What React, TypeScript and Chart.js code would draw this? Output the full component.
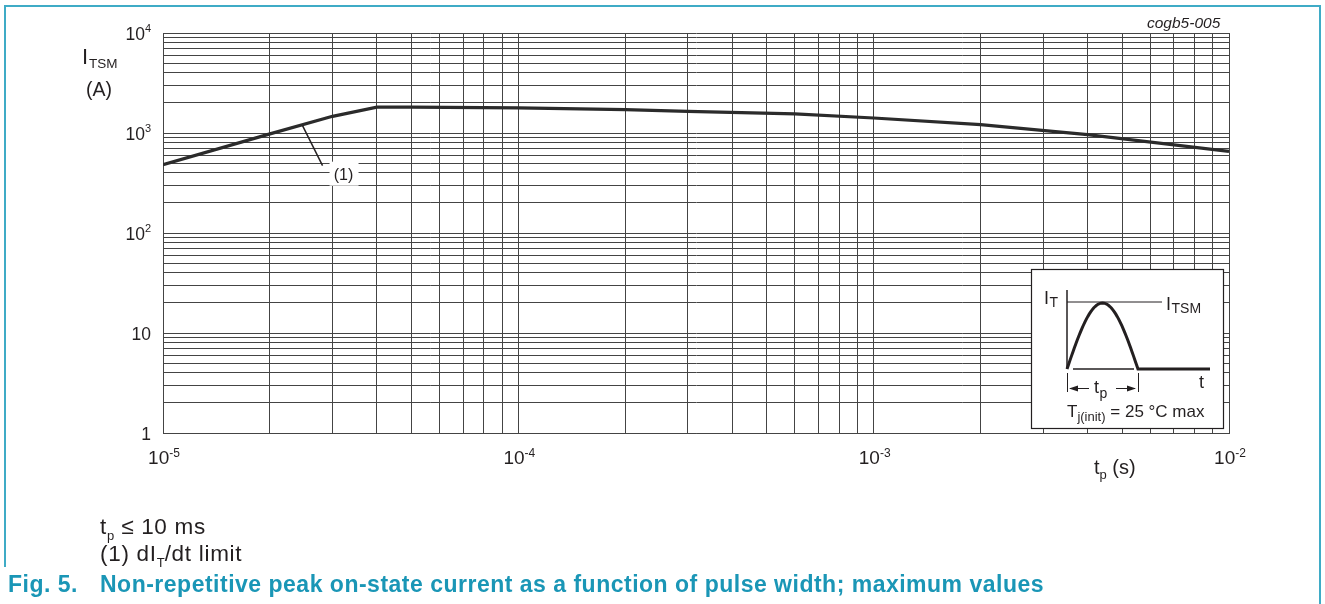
import React, { useEffect, useRef } from "react";
import { Chart, registerables } from "chart.js";

Chart.register(...registerables);

// ---- data ----
const pulseWidth = [1e-5, 2e-5, 3e-5, 4e-5, 5e-5, 1e-4, 2e-4, 3e-4, 6e-4, 1e-3, 2e-3, 4e-3, 1e-2];
const itsmMax = [482, 980, 1468, 1815, 1815, 1780, 1710, 1645, 1550, 1413, 1211, 962, 656];

const xTickValues = [1e-5, 1e-4, 1e-3, 1e-2];
const xTickBase = ["10", "10", "10", "10"];
const xTickExp = ["-5", "-4", "-3", "-2"];
const yTickValues = [1, 10, 100, 1000, 10000];
const yTickBase = ["1", "10", "10", "10", "10"];
const yTickExp = ["", "", "2", "3", "4"];

const minorMultipliers = [1, 2, 3, 4, 5, 6, 7, 8, 9];
const xDecades = [1e-5, 1e-4, 1e-3];
const yDecades = [1, 10, 100, 1000];
const xGrid = [...xDecades.flatMap((d) => minorMultipliers.map((m) => m * d)), 1e-2];
const yGrid = [...yDecades.flatMap((d) => minorMultipliers.map((m) => m * d)), 10000];

const annotationAnchor = { x: 2.47e-5, y: 1211 };

const FONT = '"Liberation Sans", Arial, Helvetica, sans-serif';
const INK = "#231f20";
const TEAL = "#1a96b6";

function drawInset(ctx: CanvasRenderingContext2D, ca: any) {
  const ox = ca.right - 198;
  const oy = ca.bottom - 164;
  const R = ca.right - 6;
  const B = ca.bottom - 5;
  ctx.save();
  ctx.fillStyle = "#fff";
  ctx.fillRect(ox, oy, R - ox, B - oy);
  ctx.strokeStyle = INK;
  ctx.lineWidth = 1.2;
  ctx.strokeRect(ox + 0.5, oy + 0.5, R - ox, B - oy);

  const ax = ox + 36;
  const base = oy + 100;
  const x1 = ox + 107;
  // vertical axis
  ctx.lineWidth = 1.5;
  ctx.beginPath();
  ctx.moveTo(ax, oy + 21);
  ctx.lineTo(ax, base);
  ctx.stroke();
  // ITSM level line
  ctx.lineWidth = 1;
  ctx.beginPath();
  ctx.moveTo(ax, oy + 33);
  ctx.lineTo(ox + 131, oy + 33);
  ctx.stroke();
  // thin baseline under pulse
  ctx.lineWidth = 1.5;
  ctx.beginPath();
  ctx.moveTo(ox + 42, base);
  ctx.lineTo(ox + 103, base);
  ctx.stroke();
  // half sine pulse
  ctx.lineWidth = 3;
  ctx.beginPath();
  const n = 48;
  for (let i = 0; i <= n; i++) {
    const px = ax + ((x1 - ax) * i) / n;
    const py = base - 66 * Math.sin((Math.PI * i) / n);
    if (i === 0) ctx.moveTo(px, py);
    else ctx.lineTo(px, py);
  }
  ctx.lineTo(ox + 179, base);
  ctx.stroke();
  // dimension ticks
  ctx.lineWidth = 1;
  ctx.beginPath();
  ctx.moveTo(ax + 0.5, oy + 104);
  ctx.lineTo(ax + 0.5, oy + 123);
  ctx.moveTo(x1 + 0.5, oy + 104);
  ctx.lineTo(x1 + 0.5, oy + 123);
  ctx.stroke();
  // arrows
  const ay = oy + 119.5;
  ctx.lineWidth = 1.2;
  ctx.beginPath();
  ctx.moveTo(ax + 3, ay);
  ctx.lineTo(ox + 58, ay);
  ctx.moveTo(ox + 85, ay);
  ctx.lineTo(x1 - 3, ay);
  ctx.stroke();
  ctx.fillStyle = INK;
  ctx.beginPath();
  ctx.moveTo(ax + 2, ay);
  ctx.lineTo(ax + 11, ay - 3);
  ctx.lineTo(ax + 11, ay + 3);
  ctx.closePath();
  ctx.fill();
  ctx.beginPath();
  ctx.moveTo(x1 - 2, ay);
  ctx.lineTo(x1 - 11, ay - 3);
  ctx.lineTo(x1 - 11, ay + 3);
  ctx.closePath();
  ctx.fill();

  // texts
  ctx.textAlign = "left";
  ctx.textBaseline = "alphabetic";
  const txt = (s: string, x: number, yb: number, size: number) => {
    ctx.font = `${size}px ${FONT}`;
    ctx.fillText(s, x, yb);
    return ctx.measureText(s).width;
  };
  // I_T
  let w = txt("I", ox + 13, oy + 35, 18);
  txt("T", ox + 13 + w + 0.5, oy + 38, 14);
  // I_TSM
  w = txt("I", ox + 135, oy + 41, 18);
  txt("TSM", ox + 135 + w + 0.5, oy + 44, 14);
  // t
  txt("t", ox + 168, oy + 119, 18);
  // t_p
  w = txt("t", ox + 63, oy + 124, 18);
  txt("p", ox + 63 + w + 0.5, oy + 129, 14);
  // Tj(init) = 25 °C max
  let cx = ox + 36;
  w = txt("T", cx, oy + 148, 17);
  cx += w;
  w = txt("j(init)", cx, oy + 152, 13);
  cx += w;
  txt(" = 25 °C max", cx, oy + 148, 17);
  ctx.restore();
}

const overlayPlugin = {
  id: "overlay",
  afterDraw(chart: any) {
    const { ctx, chartArea: ca, scales } = chart;
    const xs = scales.x;
    const ys = scales.y;
    ctx.save();
    ctx.fillStyle = INK;
    ctx.textBaseline = "alphabetic";
    ctx.textAlign = "left";

    // y tick labels
    yTickValues.forEach((v, i) => {
      const py = ys.getPixelForValue(v);
      const b = yTickBase[i];
      const e = yTickExp[i];
      ctx.font = `17.5px ${FONT}`;
      const bw = ctx.measureText(b).width;
      ctx.font = `11px ${FONT}`;
      const ew = e ? ctx.measureText(e).width : 0;
      const right = ca.left - 12;
      const baseY = py + 7;
      ctx.font = `17.5px ${FONT}`;
      ctx.fillText(b, right - ew - bw, baseY);
      if (e) {
        ctx.font = `11px ${FONT}`;
        ctx.fillText(e, right - ew, baseY - 8);
      }
    });

    // x tick labels
    xTickValues.forEach((v, i) => {
      const px = xs.getPixelForValue(v);
      const b = xTickBase[i];
      const e = xTickExp[i];
      ctx.font = `19px ${FONT}`;
      const bw = ctx.measureText(b).width;
      ctx.font = `12px ${FONT}`;
      const ew = ctx.measureText(e).width;
      const start = px - (bw + ew) / 2 + 1;
      const baseY = ca.bottom + 31;
      ctx.font = `19px ${FONT}`;
      ctx.fillText(b, start, baseY);
      ctx.font = `12px ${FONT}`;
      ctx.fillText(e, start + bw, baseY - 7);
    });

    // annotation (1)
    const axp = xs.getPixelForValue(annotationAnchor.x);
    const ayp = ys.getPixelForValue(annotationAnchor.y);
    ctx.strokeStyle = INK;
    ctx.lineWidth = 1.5;
    ctx.beginPath();
    ctx.moveTo(axp, ayp + 1);
    ctx.lineTo(axp + 20, ayp + 41);
    ctx.stroke();
    ctx.fillStyle = "#fff";
    ctx.fillRect(axp + 27, ayp + 37, 29, 24);
    ctx.fillStyle = INK;
    ctx.font = `16px ${FONT}`;
    ctx.textAlign = "center";
    ctx.fillText("(1)", axp + 41, ayp + 55);
    ctx.restore();

    drawInset(ctx, ca);
  },
};

export default function App() {
  const canvasRef = useRef<HTMLCanvasElement | null>(null);

  useEffect(() => {
    if (!canvasRef.current) return;
    const chart = new Chart(canvasRef.current, {
      type: "line",
      data: {
        datasets: [
          {
            data: pulseWidth.map((x, i) => ({ x, y: itsmMax[i] })),
            borderColor: "#2b2b2b",
            borderWidth: 3.2,
            pointRadius: 0,
            tension: 0,
            fill: false,
          },
        ],
      },
      options: {
        animation: false,
        responsive: false,
        devicePixelRatio: 1,
        layout: { padding: { top: 33, right: 96, left: 0, bottom: 0 } },
        plugins: { legend: { display: false }, tooltip: { enabled: false } },
        scales: {
          x: {
            type: "logarithmic",
            min: 1e-5,
            max: 1e-2,
            ticks: { display: false },
            grid: { color: "#444", lineWidth: 1, drawTicks: false },
            border: { display: true, color: "#444", width: 1 },
            afterBuildTicks: (scale: any) => {
              scale.ticks = xGrid.map((v) => ({ value: v }));
            },
            afterFit: (scale: any) => {
              scale.height = 171;
            },
          },
          y: {
            type: "logarithmic",
            min: 1,
            max: 10000,
            ticks: { display: false },
            grid: { color: "#444", lineWidth: 1, drawTicks: false },
            border: { display: true, color: "#444", width: 1 },
            afterBuildTicks: (scale: any) => {
              scale.ticks = yGrid.map((v) => ({ value: v }));
            },
            afterFit: (scale: any) => {
              scale.width = 163;
            },
          },
        },
      } as any,
      plugins: [overlayPlugin],
    });
    return () => chart.destroy();
  }, []);

  const abs = (o: React.CSSProperties): React.CSSProperties => ({
    position: "absolute",
    whiteSpace: "nowrap",
    lineHeight: 1,
    fontFamily: FONT,
    color: INK,
    ...o,
  });

  return (
    <div style={{ position: "absolute", left: 0, top: 0, width: 1325, height: 604, background: "#fff", overflow: "hidden" }}>
      <canvas ref={canvasRef} width={1325} height={604} style={{ position: "absolute", left: 0, top: 0, width: 1325, height: 604 }} />
      {/* frame */}
      <div style={{ position: "absolute", left: 4, top: 5, width: 1316, height: 0, borderTop: "2px solid #3fabc6" }} />
      <div style={{ position: "absolute", left: 4, top: 5, width: 0, height: 562, borderLeft: "2px solid #3fabc6" }} />
      <div style={{ position: "absolute", left: 1319, top: 5, width: 0, height: 600, borderLeft: "2px solid #3fabc6" }} />

      <div style={abs({ left: 1147, top: 15, fontSize: 15.5, fontStyle: "italic" })}>cogb5-005</div>

      {/* y axis title */}
      <div style={abs({ left: 82, top: 46, fontSize: 22 })}>I</div>
      <div style={abs({ left: 89, top: 57, fontSize: 13.5 })}>TSM</div>
      <div style={abs({ left: 86, top: 80, fontSize: 19.5 })}>(A)</div>

      {/* x axis title */}
      <div style={abs({ left: 1094, top: 457, fontSize: 20 })}>
        t<span style={{ fontSize: 13, position: "relative", top: 5 }}>p</span> (s)
      </div>

      {/* notes */}
      <div style={abs({ left: 100, top: 516, fontSize: 22.5, letterSpacing: 0.7 })}>
        t<span style={{ fontSize: 13, position: "relative", top: 6, letterSpacing: 0 }}>p</span> ≤ 10 ms
      </div>
      <div style={abs({ left: 100, top: 543, fontSize: 22.5, letterSpacing: 0.7 })}>
        (1) dI<span style={{ fontSize: 13, position: "relative", top: 6, letterSpacing: 0 }}>T</span>/dt limit
      </div>

      {/* caption */}
      <div style={abs({ left: 8, top: 573, fontSize: 23, letterSpacing: 0.5, fontWeight: "bold", color: TEAL })}>Fig. 5.</div>
      <div style={abs({ left: 100, top: 573, fontSize: 23, letterSpacing: 0.5, fontWeight: "bold", color: TEAL })}>
        Non-repetitive peak on-state current as a function of pulse width; maximum values
      </div>
    </div>
  );
}
